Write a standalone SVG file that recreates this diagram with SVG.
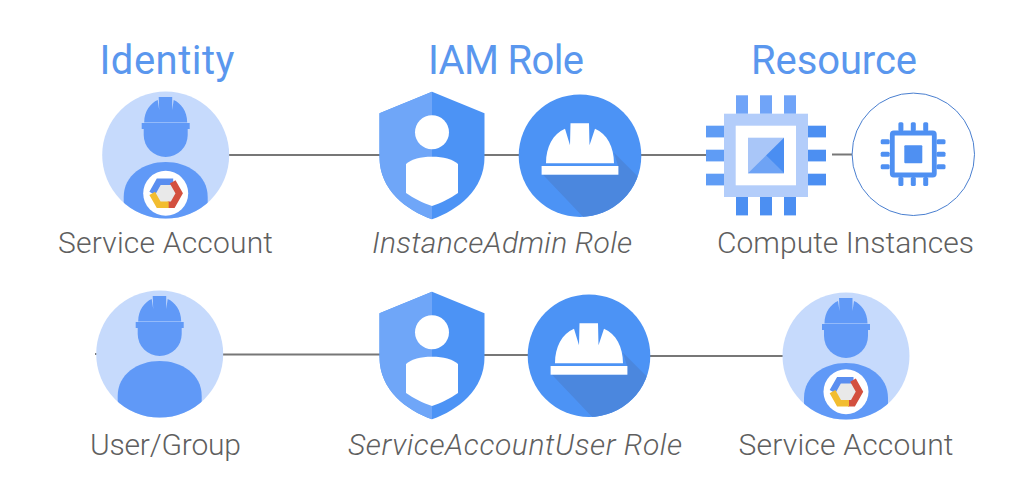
<svg xmlns="http://www.w3.org/2000/svg" xmlns:xlink="http://www.w3.org/1999/xlink" width="1014" height="492" viewBox="0 0 1014 492">
<style>
.title{font-family:"Roboto","Liberation Sans",sans-serif;font-size:40px;fill:#5a97ee;text-anchor:middle}
.label{font-family:"Roboto","Liberation Sans",sans-serif;font-size:30px;font-weight:300;fill:#5f5f5f;text-anchor:middle}
.it{font-style:italic}
.conn{stroke:#777777;stroke-width:2;fill:none}
.bg{fill:#c6dafc}
.wk{fill:#6099f7}
.pin1{fill:#70a4f8}
.pin2{fill:#4c8ff2}
.pin3{fill:#5f9cf5}
</style>
<defs>
<clipPath id="c64"><circle r="63.5"/></clipPath>
<clipPath id="c61"><circle r="61.3"/></clipPath>
<g id="worker">
<circle class="bg" r="63.5"/>
<path class="wk" d="M-21.5 -32.5C-21.5 -44 -15 -52 -8 -55L-6.5 -45L-7 -58L6.5 -58L6.5 -45L8 -55C15 -52 21.5 -44 21.5 -32.5Z"/>
<rect class="wk" x="-24" y="-32" width="48" height="6"/>
<path class="wk" d="M-22 -26V-20A22 22 0 0 0 22 -20V-26Z"/>
<path class="wk" clip-path="url(#c64)" d="M-42 70V42C-42 20 -22 7 0 7C22 7 42 20 42 42V70Z"/>
</g>
<g id="logo">
<circle r="22.500" fill="#ffffff"/>
<path d="M-6 -10.500H6L12.500 0L6 10.500H-6L-12.500 0Z" fill="#e9e9e9"/>
<path d="M-13.500 0L-7 -11.500H7.500" fill="none" stroke="#5a8ef0" stroke-width="6.500"/>
<path d="M7 -11.500L13.500 0L7 11.500H2" fill="none" stroke="#d3503f" stroke-width="6.500"/>
<path d="M-13.500 0L-7 11.500H3" fill="none" stroke="#f2bd30" stroke-width="6.500"/>
</g>
<g id="shield">
<path fill="#4c93f5" d="M0 -40.300L52.500 -18.700V25C52.500 58 26 78 0 87.300C-26 78 -52.500 58 -52.500 25V-18.700Z"/>
<path fill="#6fa6f8" d="M0 -40.300V87.300C-26 78 -52.500 58 -52.500 25V-18.700Z"/>
<circle cx="0" cy="0.300" r="17" fill="#ffffff"/>
<path fill="#ffffff" d="M0 24.700C12 24.700 20 27 26 32V61C19 66 9 71 0 74C-9 71 -19 66 -26 61V32C-20 27 -12 24.700 0 24.700Z"/>
</g>
<g id="hat">
<circle r="61.300" fill="#4c93f5"/>
<polygon clip-path="url(#c61)" fill="#4b87de" points="-37,19 38,19 38,10 34,-3 100,63 40,100"/>
<path fill="#ffffff" d="M-34 7.600C-34 -9 -27 -22 -15 -27L-10 -10.500L-9.500 -32.400H9L9.500 -10.500L15 -27C27 -22 34 -9 34 7.600Z"/>
<rect x="-38.400" y="10.300" width="76.800" height="8.700" fill="#ffffff"/>
</g>
</defs>
<rect width="1014" height="492" fill="#ffffff"/>
<g id="connectors">
<path class="conn" d="M228 155H382"/>
<path class="conn" d="M484 155H522"/>
<path class="conn" d="M638 155H708"/>
<path class="conn" d="M832 154.500H853"/>
<path class="conn" d="M222 354.500H382"/>
<path class="conn" d="M484 355H530"/>
<path class="conn" d="M648 356H784"/>
<path class="conn" d="M95 354H97"/>
</g>
<g id="title-identity"><text class="title" x="167" y="74" textLength="135">Identity</text></g>
<g id="title-iam"><text class="title" x="506" y="74" textLength="156">IAM Role</text></g>
<g id="title-resource"><text class="title" x="834" y="74" textLength="166">Resource</text></g>
<g id="node-service-account-1">
<use href="#worker" x="165.700" y="155"/>
<use href="#logo" x="165.700" y="193.300"/>
<text class="label" x="165.500" y="253" textLength="215">Service Account</text>
</g>
<g id="node-instance-admin">
<use href="#shield" x="432" y="132"/>
<use href="#hat" x="580" y="155.700"/>
<text class="label it" x="502" y="253" textLength="260">InstanceAdmin Role</text>
</g>
<g id="node-compute">
<rect x="724" y="113.700" width="84" height="83.300" fill="#b3cdfa"/>
<rect x="735.700" y="125.700" width="60.300" height="59.600" fill="#ffffff"/>
<g class="pin1"><rect x="736" y="95.300" width="12" height="18.400"/><rect x="760" y="95.300" width="12" height="18.400"/><rect x="784" y="95.300" width="12" height="18.400"/></g>
<g class="pin2"><rect x="736" y="197" width="12" height="18.400"/><rect x="760" y="197" width="12" height="18.400"/><rect x="784" y="197" width="12" height="18.400"/></g>
<g class="pin3"><rect x="706" y="125.700" width="18" height="11.700"/><rect x="706" y="149.700" width="18" height="11.700"/><rect x="706" y="173.700" width="18" height="11.700"/></g>
<g class="pin2"><rect x="808" y="125.700" width="18" height="11.700"/><rect x="808" y="149.700" width="18" height="11.700"/><rect x="808" y="173.700" width="18" height="11.700"/></g>
<rect x="748" y="137.700" width="36" height="35.600" fill="#a9c6f8"/>
<polygon points="748,173.300 784,173.300 766,155.500" fill="#6ea3f5"/>
<polygon points="784,137.700 784,173.300 766,155.500" fill="#4a8ef2"/>
<text class="label" x="845.500" y="253" textLength="257">Compute Instances</text>
</g>
<g id="node-instance">
<circle cx="913.300" cy="154.300" r="61.200" fill="#ffffff" stroke="#4a7fd0" stroke-width="1"/>
<g fill="#4f90f2">
<rect x="892.300" y="133" width="42" height="42" fill="none" stroke="#4f90f2" stroke-width="4.800" rx="1.500"/>
<rect x="904.300" y="145.300" width="18" height="18" rx="1"/>
<rect x="898.400" y="122.300" width="5" height="9" rx="1.500"/><rect x="910.800" y="122.300" width="5" height="9" rx="1.500"/><rect x="923.200" y="122.300" width="5" height="9" rx="1.500"/>
<rect x="898.400" y="177" width="5" height="9" rx="1.500"/><rect x="910.800" y="177" width="5" height="9" rx="1.500"/><rect x="923.200" y="177" width="5" height="9" rx="1.500"/>
<rect x="880.700" y="139.200" width="9" height="5" rx="1.500"/><rect x="880.700" y="151.800" width="9" height="5" rx="1.500"/><rect x="880.700" y="164.200" width="9" height="5" rx="1.500"/>
<rect x="936.500" y="139.200" width="9" height="5" rx="1.500"/><rect x="936.500" y="151.800" width="9" height="5" rx="1.500"/><rect x="936.500" y="164.200" width="9" height="5" rx="1.500"/>
</g>
</g>
<g id="node-user-group">
<use href="#worker" x="159.700" y="354"/>
<text class="label" x="165.500" y="455" textLength="151">User/Group</text>
</g>
<g id="node-service-account-user">
<use href="#shield" x="432" y="332"/>
<use href="#hat" x="589" y="355.700"/>
<text class="label it" x="515" y="455" textLength="334">ServiceAccountUser Role</text>
</g>
<g id="node-service-account-2">
<use href="#worker" x="846" y="356"/>
<use href="#logo" x="846" y="391.700"/>
<text class="label" x="846" y="455" textLength="215">Service Account</text>
</g>
</svg>
